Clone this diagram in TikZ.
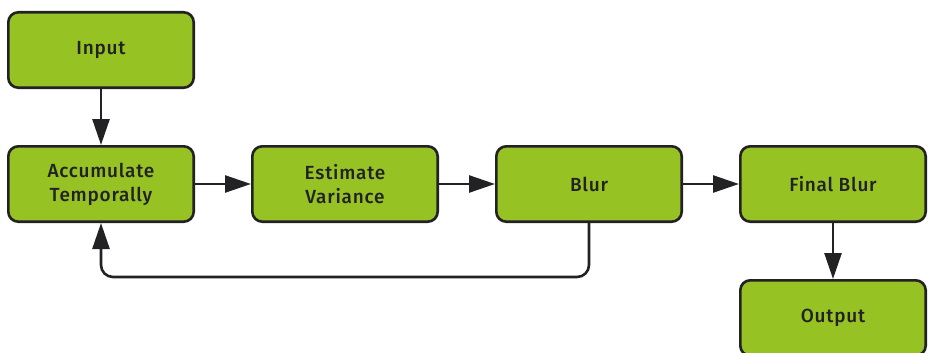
\documentclass[tikz,border=0pt]{standalone}
\usepackage{fontspec}
\setmainfont{Fira Sans}[UprightFont=* Medium, LetterSpace=4]
\definecolor{stagegreen}{RGB}{150,194,36}
\definecolor{edgedark}{RGB}{34,34,36}
\usetikzlibrary{arrows.meta,positioning}

\begin{document}
\begin{tikzpicture}[x=1pt, y=-1pt, >={Triangle[length=26pt,width=17pt]}, font=\fontsize{19}{24}\selectfont,
    stage/.style={draw=edgedark, line width=2.6pt, fill=stagegreen, rounded corners=10pt,
      minimum width=185.4pt, minimum height=75.4pt, align=center, text=edgedark},
    flow/.style={->, draw=edgedark, line width=2.6pt}]
        \useasboundingbox (0,0) rectangle (928,353);
        \node[stage] (input) at (101,50) {Input};
        \node[stage, below=56pt of input] (acc) {Accumulate\\Temporally};
        \node[stage, right=56pt of acc] (var) {Estimate\\Variance};
        \node[stage, right=56pt of var] (blur) {Blur};
        \node[stage, right=56pt of blur] (final) {Final Blur};
        \node[stage, below=56pt of final] (output) {Output};
        \draw[flow] (input) -- (acc);
        \draw[flow] (acc) -- (var);
        \draw[flow] (var) -- (blur);
        \draw[flow] (blur) -- (final);
        \draw[flow] (final) -- (output);
        % feedback loop back into accumulation
        \coordinate (loop) at (0,277);
        \draw[flow, rounded corners=12pt] (blur.south) -- (blur.south |- loop) -- (acc.south |- loop) -- (acc.south);
      \end{tikzpicture}
\end{document}
